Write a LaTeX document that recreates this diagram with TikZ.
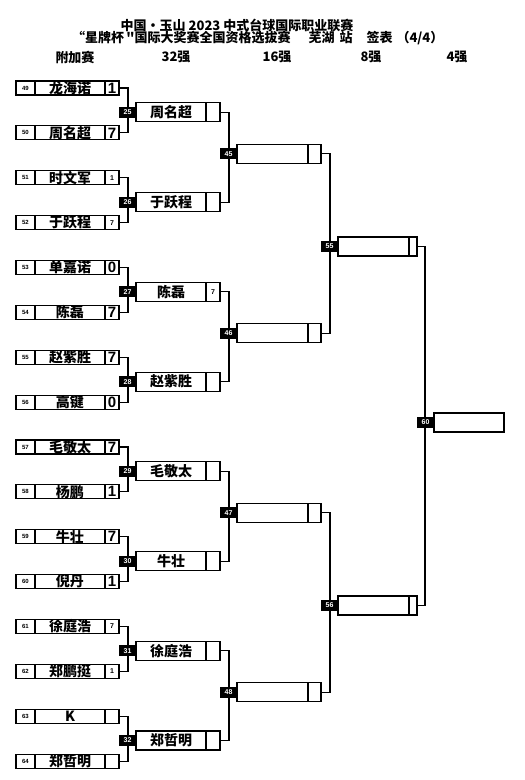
\documentclass[tikz,border=0pt]{standalone}
\usepackage{fontspec}
\setmainfont{Liberation Sans}
\newfontfamily\cjk{Noto Sans CJK SC}
\usepackage{xcolor}
\usetikzlibrary{positioning}
\definecolor{ink}{HTML}{000000}
\newcommand{\bigsc}[1]{{\fontsize{15}{15}\selectfont #1}}

\begin{document}
\begin{tikzpicture}[x=1pt, y=-1pt,
  cell/.style={draw=ink, line width=1.1pt, inner sep=0pt, outer sep=0pt, minimum height=14pt},
  seedcell/.style={cell, minimum width=19pt, font=\fontsize{6}{6}\selectfont\bfseries},
  namecell/.style={cell, minimum width=70pt, font=\cjk\fontsize{14}{14}\selectfont\bfseries},
  scorecell/.style={cell, minimum width=14pt, font=\fontsize{7}{7}\selectfont\bfseries},
  wincell/.style={namecell, minimum height=19pt},
  winscore/.style={scorecell, minimum height=19pt},
  tag/.style={fill=ink, text=white, inner sep=0pt, outer sep=0pt, minimum width=17pt, minimum height=11pt, font=\fontsize{7}{7}\selectfont\bfseries},
  link/.style={draw=ink, line width=1.1pt},
  title/.style={font=\cjk\fontsize{13}{13}\selectfont\bfseries, inner sep=0pt}
]
  \useasboundingbox[fill=white] (0,0) rectangle (525,780);

  % Title
  \node[title] (t1) at (237,25) {中国·玉山 2023 中式台球国际职业联赛};
  \node[title, anchor=west] (t2) at (72,38) {“星牌杯\,"国际大奖赛全国资格选拔赛\hspace{18pt}芜湖\hspace{5pt}站\hspace{14pt}签表\hspace{4pt}（4/4）};

  % Round headers
  \node[title] (h1) at (75,57) {附加赛};
  \node[title] (h2) at (176,57) {32强};
  \node[title] (h3) at (277,57) {16强};
  \node[title] (h4) at (371,57) {8强};
  \node[title] (h5) at (457,57) {4强};

  % Qualifiers
  \foreach \seed/\nm/\pts [count=\i from 0] in {49/龙海诺/\bigsc{1}, 50/周名超/\bigsc{7}, 51/时文军/1, 52/于跃程/7,
      53/单嘉诺/\bigsc{0}, 54/陈磊/\bigsc{7}, 55/赵紫胜/\bigsc{7}, 56/高键/\bigsc{0},
      57/毛敬太/\bigsc{7}, 58/杨鹏/\bigsc{1}, 59/牛壮/\bigsc{7}, 60/倪丹/\bigsc{1},
      61/徐庭浩/7, 62/郑鹏挺/1, 63/K/{}, 64/郑哲明/{}} {
    \node[seedcell] (seed\seed) at (25.5, 88+44.87*\i) {\seed};
    \node[namecell, right=0pt of seed\seed] (name\seed) {\nm};
    \node[scorecell, right=0pt of name\seed] (score\seed) {\pts};
  }

  % Last 32
  \foreach \m/\nm/\pts [count=\i from 0] in {25/周名超/{}, 26/于跃程/{}, 27/陈磊/7, 28/赵紫胜/{},
      29/毛敬太/{}, 30/牛壮/{}, 31/徐庭浩/{}, 32/郑哲明/{}} {
    \node[wincell] (box\m) at (171, 112.4+89.73*\i) {\nm};
    \node[winscore, right=0pt of box\m] (res\m) {\pts};
  }

  % Last 16
  \foreach \m [count=\i from 0] in {45,46,47,48} {
    \node[wincell, minimum width=71pt] (box\m) at (272.5, 153.8+179.5*\i) {};
    \node[winscore, minimum width=13pt, right=0pt of box\m] (res\m) {};
  }

  % Last 8
  \node[wincell, minimum width=71pt] (box55) at (373.5,246.5) {};
  \node[winscore, minimum width=8pt, right=0pt of box55] (res55) {};
  \node[wincell, minimum width=71pt] (box56) at (373.5,605.5) {};
  \node[winscore, minimum width=8pt, right=0pt of box56] (res56) {};

  % Last 4
  \node[wincell] (box60) at (469,422.5) {};

  % Connectors
  \foreach \a/\b in {49/50, 51/52, 53/54, 55/56, 57/58, 59/60, 61/62, 63/64}
    \draw[link] (score\a.east) -- ++(9,0) |- (score\b.east);
  \foreach \a/\b in {25/26, 27/28, 29/30, 31/32, 45/46, 47/48}
    \draw[link] (res\a.east) -- ++(9,0) |- (res\b.east);
  \draw[link] (res55.east) -- ++(8,0) |- (res56.east);

  % Match numbers
  \foreach \m in {25,...,32,45,46,47,48,55,56,60}
    \node[tag, left=0pt of box\m] (tag\m) {\m};
\end{tikzpicture}
\end{document}
